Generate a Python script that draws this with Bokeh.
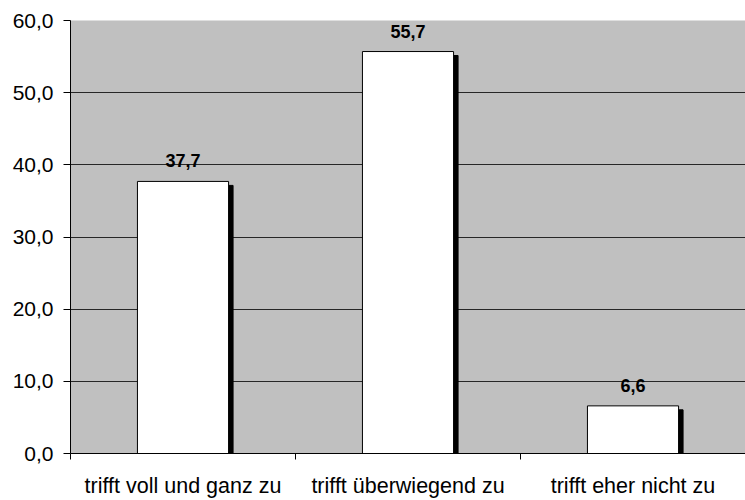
from bokeh.plotting import figure
from bokeh.models import FixedTicker, ColumnDataSource, LabelSet, Range1d
from bokeh.core.properties import value
from bokeh.embed import file_html
from bokeh.resources import INLINE

categories = ["trifft voll und ganz zu", "trifft überwiegend zu", "trifft eher nicht zu"]
values = [37.7, 55.7, 6.6]
y_ticks = [0, 10, 20, 30, 40, 50, 60]
y_tick_labels = ["0,0", "10,0", "20,0", "30,0", "40,0", "50,0", "60,0"]

FONT = "Liberation Sans"

centers = [i + 0.5 for i in range(len(categories))]
bar_w = 0.405
dx = 0.02   # shadow offset (style)
dy = 0.55

src = ColumnDataSource(dict(
    x=centers,
    top=values,
    sx=[c + dx for c in centers],
    stop=[v - dy for v in values],
    label=[f"{v:.1f}".replace(".", ",") for v in values],
))

p = figure(width=745, height=500, output_backend="svg", toolbar_location=None,
           x_range=Range1d(0, 3), y_range=Range1d(0, 60),
           min_border_left=70, min_border_right=0, min_border_top=20, min_border_bottom=47)
p.background_fill_color = "#C0C0C0"
p.border_fill_color = "white"
p.outline_line_color = None

p.vbar(x="sx", width=bar_w, top="stop", bottom=0, source=src,
       fill_color="black", line_color="black")
p.vbar(x="x", width=bar_w, top="top", bottom=0, source=src,
       fill_color="white", line_color="black", line_width=1)

labels = LabelSet(x="x", y="top", text="label", source=src, text_align="center",
                  text_baseline="alphabetic", y_offset=14,
                  text_font=value(FONT), text_font_size=value("18px"),
                  text_font_style=value("bold"), text_color=value("black"))
p.add_layout(labels)

# y axis
p.yaxis.ticker = FixedTicker(ticks=y_ticks)
p.yaxis.major_label_overrides = {t: l for t, l in zip(y_ticks, y_tick_labels)}
p.yaxis.major_tick_in = 0
p.yaxis.major_tick_out = 7
p.yaxis.minor_tick_line_color = None
p.yaxis.axis_line_color = "black"
p.yaxis.major_tick_line_color = "black"
p.yaxis.major_label_text_font = FONT
p.yaxis.major_label_text_font_size = "21px"
p.yaxis.major_label_text_color = "black"
p.yaxis.major_label_standoff = 10

# x axis
p.xaxis.ticker = FixedTicker(ticks=centers, minor_ticks=[0, 1, 2, 3])
p.xaxis.major_label_overrides = {c: l for c, l in zip(centers, categories)}
p.xaxis.major_tick_line_color = None
p.xaxis.minor_tick_in = 0
p.xaxis.minor_tick_out = 6
p.xaxis.minor_tick_line_color = "black"
p.xaxis.axis_line_color = "black"
p.xaxis.major_label_text_font = FONT
p.xaxis.major_label_text_font_size = "21.5px"
p.xaxis.major_label_text_color = "black"
p.xaxis.major_label_standoff = 14

p.xgrid.grid_line_color = None
p.ygrid.ticker = FixedTicker(ticks=y_ticks)
p.ygrid.grid_line_color = "black"
p.ygrid.grid_line_alpha = 0.8

open("out.html", "w").write(file_html(p, INLINE))
